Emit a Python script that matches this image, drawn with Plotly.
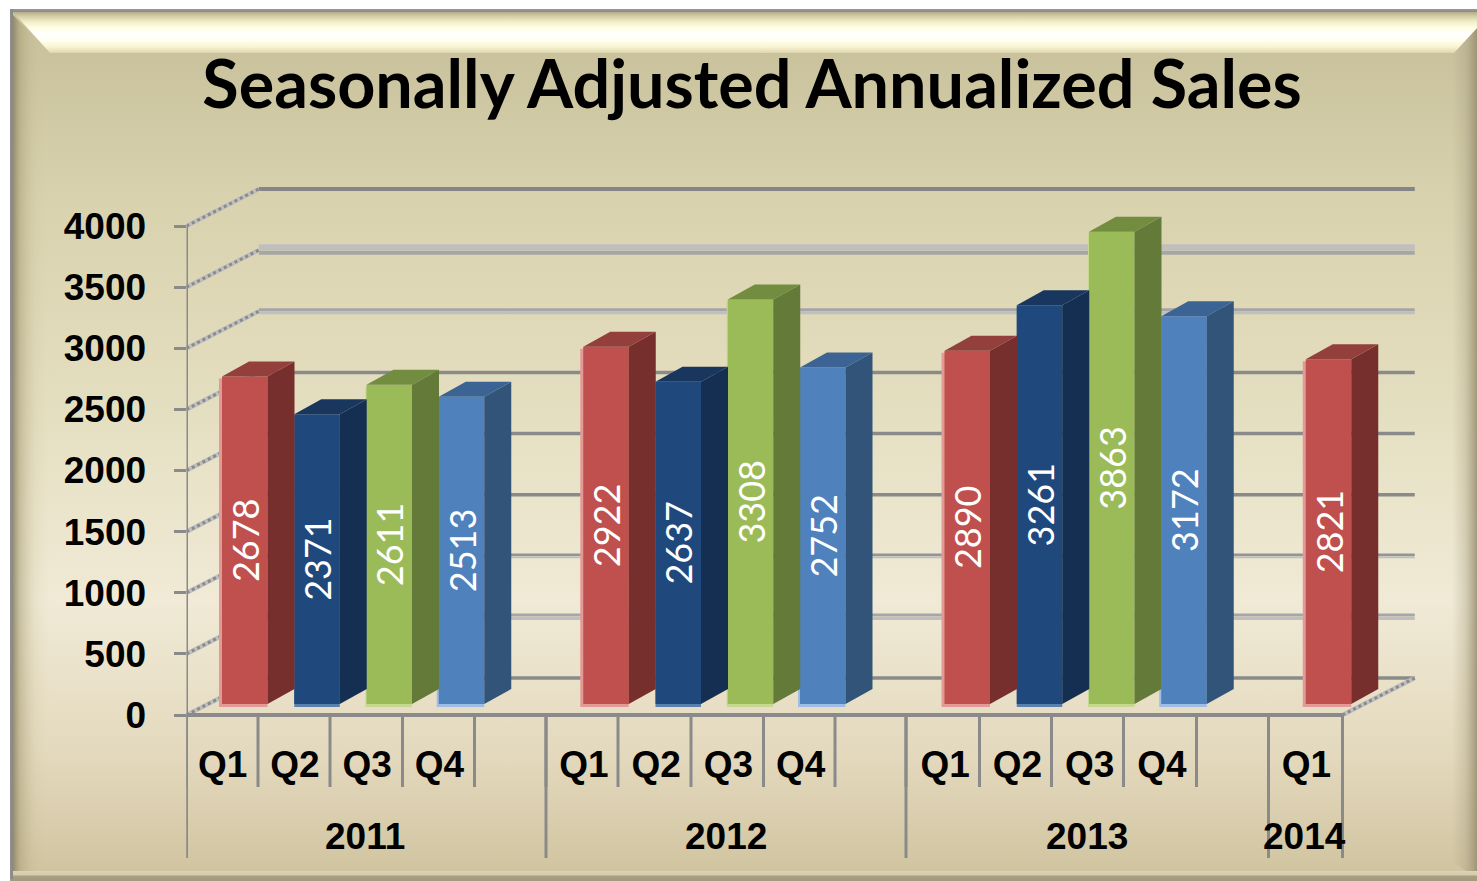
import plotly.graph_objects as go

TITLE = "Seasonally Adjusted Annualized Sales"
quarters = ["Q1", "Q2", "Q3", "Q4", "Q1", "Q2", "Q3", "Q4", "Q1", "Q2", "Q3", "Q4", "Q1"]
slots = [0, 1, 2, 3, 5, 6, 7, 8, 10, 11, 12, 13, 15]
sales = [2678, 2371, 2611, 2513, 2922, 2637, 3308, 2752, 2890, 3261, 3863, 3172, 2821]
years = ["2011", "2012", "2013", "2014"]
year_edges = [0, 5, 10, 15, 16]
y_ticks = [0, 500, 1000, 1500, 2000, 2500, 3000, 3500, 4000]
# the category dividers are very slightly uneven in the source (offsets from the axis, px)
divider_px = [0, 71.5, 143.5, 216, 288, 359.5, 431.5, 504.5, 577, 648.5, 719.5, 793, 865, 937, 1010, 1082, 1156]

W, H = 1477, 881
X0, CELL = 186.5, 72.25
Y0, PX = 715, 0.12225          # px per sales unit


def u(px):
    return px / PX


def c(px):
    return px / CELL


FRONT = {"Q1": "#c0504d", "Q2": "#1f497d", "Q3": "#9bbb59", "Q4": "#4f81bd"}
EDGE = {"Q1": "#e39a97", "Q2": "#5a80ad", "Q3": "#c4d890", "Q4": "#9dbde4"}
EDGE_LEFT = {"Q1": 3, "Q2": 0, "Q3": 1, "Q4": 2}
SIDE = {"Q1": "#772f2d", "Q2": "#152f52", "Q3": "#647a38", "Q4": "#325479"}
TOP = {"Q1": "#93403d", "Q2": "#18365e", "Q3": "#728c40", "Q4": "#3b6494"}

GRAY = "#8a8a8a"
MID = "#a6a6a6"
LIGHT = "#bfbfbf"
grid_style = {
    0: [(0, 3.5, GRAY)],
    500: [(2, 3, MID), (-1.5, 3, LIGHT)],
    1000: [(1, 2.5, "#949494"), (-1.5, 2, LIGHT)],
    1500: [(0, 3.5, GRAY)],
    2000: [(0, 3.5, GRAY)],
    2500: [(0, 3.5, GRAY)],
    3000: [(1.5, 3, MID), (-1.5, 3, LIGHT)],
    3500: [(3, 6, LIGHT), (-2.5, 4, MID)],
    4000: [(0, 4, "#858585")],
}

fig = go.Figure()


# ---------- picture frame (pixel subplot) ----------
def band(xs, ys, orient, start, stop, stops):
    fig.add_trace(go.Scatter(
        x=xs, y=ys, mode="none", fill="toself", hoverinfo="skip", showlegend=False,
        fillgradient=dict(type=orient, start=start, stop=stop,
                          colorscale=[[(p - start) / (stop - start), col] for p, col in stops]),
        xaxis="x", yaxis="y"))


band([10, W, W, 10, 10], [10, 10, 881, 881, 10], "vertical", 53, 872,
     [(53, "#c9c29d"), (200, "#d8d2ae"), (400, "#e4dec0"), (600, "#f0ead6"),
      (760, "#e3d8bc"), (872, "#d0c4a0")])
band([10, 50, 50, 10, 10], [12, 53, 870, 878, 12], "horizontal", 10, 50,
     [(10, "rgba(120,112,85,0.95)"), (20, "rgba(170,160,120,0.55)"),
      (35, "rgba(200,190,150,0.18)"), (50, "rgba(220,210,170,0)")])
band([1452, W, W, 1452, 1452], [53, 28, 878, 862, 53], "horizontal", 1452, W,
     [(1452, "rgba(170,160,130,0)"), (1465, "rgba(170,160,130,0.35)"),
      (W, "rgba(150,140,110,0.85)")])
band([13, W, W, 1454, 50, 13], [12, 12, 28, 53, 53, 12], "vertical", 12, 53,
     [(12, "#b5ad88"), (17, "#d9d3ac"), (22, "#f3eec9"), (27, "#fffde0"),
      (34, "#ffffff"), (41, "#fffef0"), (47, "#f8f3d0"), (53, "#ddd6b0")])
band([10, W, W, 10, 10], [871, 871, 881, 881, 871], "vertical", 871, 881,
     [(871, "#ddd3b5"), (875, "#d4cab0"), (876, "#a89e80"), (881, "#a39a7d")])
band([10, W, W, 10, 10], [9, 9, 12, 12, 9], "vertical", 9, 12,
     [(9, "#9a9a9a"), (12, "#8a8a8a")])
band([10, 13, 13, 10, 10], [9, 9, 879, 879, 9], "horizontal", 10, 13,
     [(10, "#8f8f8f"), (13, "#8a8a80")])

# ---------- chart subplot: shapes under the bars ----------
DX, DY = 1.0, u(37)
shapes = []


def seg(x0, y0, x1, y1, color, width, dash="solid"):
    shapes.append(dict(type="line", xref="x2", yref="y2", layer="below",
                       x0=x0, y0=y0, x1=x1, y1=y1,
                       line=dict(color=color, width=width, dash=dash)))


for v in y_ticks:
    for off, w, col in grid_style[v]:
        seg(DX, v + DY + u(off), 16 + DX, v + DY + u(off), col, w)
    seg(0, v, DX, v + DY, LIGHT, 4.5)
    seg(0, v, DX, v + DY, GRAY, 3, "dot")
seg(16, 0, 16 + DX, DY, LIGHT, 4.5)
seg(16, 0, 16 + DX, DY, GRAY, 3, "dot")
seg(0, 0, 16, 0, GRAY, 4)
seg(0, u(-143), 0, 4000, GRAY, 3)
for d in divider_px:
    seg(c(d), 0, c(d), u(-72), GRAY, 3)
for e in year_edges:
    seg(c(divider_px[e]), 0, c(divider_px[e]), u(-143), GRAY, 3)

# ---------- bars ----------
BAR_LEFT, BAR_W = c(35.5), c(45.5)
xc = [s + BAR_LEFT + BAR_W / 2 for s in slots]
base = u(11)
edge_base = u(8)

fig.add_trace(go.Bar(
    x=[x - c(EDGE_LEFT[q]) / 2 for x, q in zip(xc, quarters)],
    y=[v + base - edge_base - u(2) for v in sales], base=edge_base,
    width=[BAR_W + c(EDGE_LEFT[q]) for q in quarters],
    marker=dict(color=[EDGE[q] for q in quarters], line_width=0),
    hoverinfo="skip", showlegend=False, xaxis="x2", yaxis="y2"))
fig.add_trace(go.Bar(
    x=xc, y=sales, base=base, width=BAR_W,
    marker=dict(color=[FRONT[q] for q in quarters], line_width=0),
    text=[str(v) for v in sales], textposition="inside", textangle=-90,
    insidetextanchor="middle", constraintext="none",
    insidetextfont=dict(family="Lato", size=36, color="white"),
    showlegend=False, xaxis="x2", yaxis="y2"))

ddx, ddy = c(27), u(15)
for s, v, q in zip(slots, sales, quarters):
    L = s + BAR_LEFT
    R = L + BAR_W
    top = v + base
    fig.add_trace(go.Scatter(
        x=[R, R + ddx, R + ddx, R, R], y=[base, base + ddy, top + ddy, top, base],
        mode="lines", fill="toself", fillcolor=SIDE[q], line=dict(width=0),
        hoverinfo="skip", showlegend=False, xaxis="x2", yaxis="y2"))
    fig.add_trace(go.Scatter(
        x=[L, R, R + ddx, L + ddx, L], y=[top, top, top + ddy, top + ddy, top],
        mode="lines", fill="toself", fillcolor=TOP[q], line=dict(width=0),
        hoverinfo="skip", showlegend=False, xaxis="x2", yaxis="y2"))

# ---------- year labels ----------
annotations = []
for yr, a, b in zip(years, year_edges[:-1], year_edges[1:]):
    annotations.append(dict(
        x=(a + b) / 2 - 0.03 if b - a > 1 else a + 0.47, y=u(-121), xref="x2", yref="y2",
        text=yr, showarrow=False, xanchor="center", yanchor="middle",
        font=dict(family="Liberation Sans", size=37, weight=700, color="black")))

# ---------- layout ----------
q_cells = [s + 0.5 for s in slots]
fig.update_layout(
    width=W, height=H, autosize=False, margin=dict(l=0, r=0, t=0, b=0),
    paper_bgcolor="white", plot_bgcolor="rgba(0,0,0,0)",
    barmode="overlay", showlegend=False, shapes=shapes, annotations=annotations,
    title=dict(text=TITLE, x=752 / W, xanchor="center", y=1 - 85 / H, yanchor="middle",
               yref="paper", xref="paper",
               font=dict(family="Lato", size=66.5, weight=700, color="black")),
    xaxis=dict(domain=[0, 1], range=[0, W], visible=False, fixedrange=True),
    yaxis=dict(domain=[0, 1], range=[H, 0], visible=False, fixedrange=True),
    xaxis2=dict(domain=[X0 / W, 1420 / W], range=[0, (1420 - X0) / CELL],
                anchor="free", position=(H - Y0) / H, showgrid=False, zeroline=False,
                showline=False, ticks="", tickmode="array", tickvals=q_cells,
                ticktext=quarters, ticklabelstandoff=24,
                tickfont=dict(family="Liberation Sans", size=37, weight=700, color="black")),
    yaxis2=dict(domain=[(H - 870) / H, (H - 180) / H],
                range=[u(Y0 - 870), u(Y0 - 180)], anchor="x2", showgrid=False,
                zeroline=False, showline=False, ticks="outside", ticklen=12, tickwidth=3,
                tickcolor=GRAY, tickmode="array", tickvals=y_ticks,
                ticktext=[str(t) for t in y_ticks], ticklabelstandoff=20,
                tickfont=dict(family="Liberation Sans", size=37, weight=700, color="black")),
)

fig.write_html("out.html", config=dict(displayModeBar=False), post_script=(
    "document.body.style.margin='0';document.body.style.overflow='hidden';"))
